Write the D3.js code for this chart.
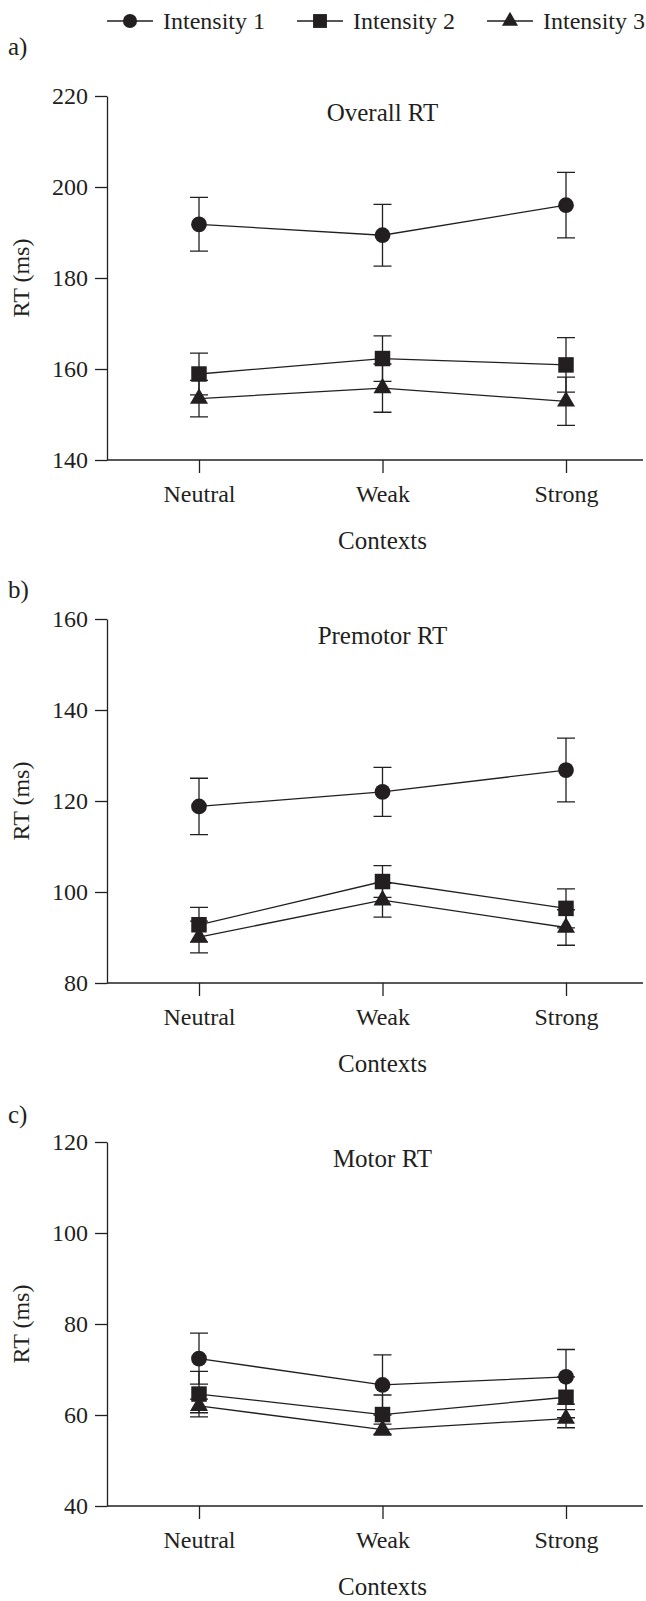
<!DOCTYPE html>
<html>
<head>
<meta charset="utf-8">
<script src="https://cdn.jsdelivr.net/npm/d3@7"></script>
<style>
  body { margin: 0; background: #fff; }
  svg { display: block; }
  text { font-family: "Liberation Serif", "Times New Roman", serif; fill: #231f20; }
</style>
</head>
<body>
<svg id="chart" width="646" height="1601"></svg>
<script>
// data
const contexts = ['Neutral', 'Weak', 'Strong'];
const seriesNames = ['Intensity 1', 'Intensity 2', 'Intensity 3'];
const panelLabels = ['a)', 'b)', 'c)'];
const panelTitles = ['Overall RT', 'Premotor RT', 'Motor RT'];
const yDomains = [[140, 220], [80, 160], [40, 120]];
const yTicks = [[140, 160, 180, 200, 220], [80, 100, 120, 140, 160], [40, 60, 80, 100, 120]];

const overallMeans = [[191.8, 189.4, 196.0], [158.9, 162.3, 160.9], [153.5, 155.8, 152.9]];
const overallErrors = [[5.9, 6.8, 7.2], [4.6, 5.0, 6.0], [4.0, 5.3, 5.3]];
const premotorMeans = [[118.8, 122.0, 126.8], [92.8, 102.3, 96.4], [90.1, 98.2, 92.2]];
const premotorErrors = [[6.2, 5.4, 7.0], [3.8, 3.5, 4.3], [3.5, 3.7, 3.9]];
const motorMeans = [[72.4, 66.6, 68.4], [64.6, 60.1, 63.9], [62.0, 56.8, 59.2]];
const motorErrors = [[5.6, 6.6, 6.0], [5.0, 4.3, 4.5], [1.5, 1.2, 2.0]];

const panelMeans = [overallMeans, premotorMeans, motorMeans];
const panelErrors = [overallErrors, premotorErrors, motorErrors];

const ink = '#231f20';
const symbols = [d3.symbolCircle, d3.symbolSquare, d3.symbolTriangle];
const symbolSizes = [195, 240, 140];

const svg = d3.select('#chart');

const axisLeftX = 107;
const axisRight = 643;
const panelTops = [96, 619, 1142];
const labelOffsets = [41, 21, 19];
const panelHeight = 364;

const x = d3.scalePoint()
  .domain(contexts)
  .range([199, 566]);

// legend
const legend = svg.append('g').attr('transform', 'translate(0,21)');
seriesNames.forEach((name, i) => {
  const x0 = 107 + i * 190;
  const item = legend.append('g').attr('transform', `translate(${x0},0)`);
  item.append('line')
    .attr('x1', 0).attr('x2', 46)
    .attr('stroke', ink).attr('stroke-width', 1.4);
  item.append('path')
    .attr('transform', 'translate(23,0)')
    .attr('d', d3.symbol(symbols[i], symbolSizes[i] * 0.8)())
    .attr('fill', ink);
  item.append('text')
    .attr('x', 56).attr('y', 8)
    .attr('font-size', 24)
    .text(name);
});

panelMeans.forEach((means, p) => {
  const top = panelTops[p];
  const errors = panelErrors[p];

  const y = d3.scaleLinear()
    .domain(yDomains[p])
    .range([top + panelHeight, top]);

  const g = svg.append('g');

  g.append('text')
    .attr('x', 8).attr('y', top - labelOffsets[p])
    .attr('font-size', 25)
    .text(panelLabels[p]);

  g.append('text')
    .attr('x', x('Weak')).attr('y', top + 25)
    .attr('text-anchor', 'middle')
    .attr('font-size', 25)
    .text(panelTitles[p]);

  // y axis
  const yAxis = g.append('g')
    .attr('transform', `translate(${axisLeftX},0)`)
    .call(d3.axisLeft(y).tickValues(yTicks[p]).tickSize(12).tickSizeOuter(0).tickPadding(7));
  yAxis.attr('font-family', null).attr('font-size', 24);
  yAxis.selectAll('text').attr('fill', ink);
  yAxis.selectAll('line, path').attr('stroke', ink).attr('stroke-width', 1.3);

  // x axis
  const xAxis = g.append('g')
    .attr('transform', `translate(0,${top + panelHeight})`)
    .call(d3.axisBottom(x).tickSize(13).tickSizeOuter(0).tickPadding(12));
  xAxis.attr('font-family', null).attr('font-size', 24);
  xAxis.select('.domain').remove();
  xAxis.append('line')
    .attr('x1', axisLeftX).attr('x2', axisRight)
    .attr('stroke', ink).attr('stroke-width', 1.3);
  xAxis.selectAll('text').attr('fill', ink);
  xAxis.selectAll('line').attr('stroke', ink).attr('stroke-width', 1.3);

  g.append('text')
    .attr('x', x('Weak')).attr('y', top + panelHeight + 89)
    .attr('text-anchor', 'middle')
    .attr('font-size', 25)
    .text('Contexts');

  g.append('text')
    .attr('transform', `translate(29,${top + panelHeight / 2}) rotate(-90)`)
    .attr('text-anchor', 'middle')
    .attr('font-size', 24)
    .text('RT (ms)');

  const line = d3.line()
    .x((d, i) => x(contexts[i]))
    .y(d => y(d));

  means.forEach((series, s) => {
    const pts = series.map((v, i) => ({ c: contexts[i], v: v, e: errors[s][i] }));

    const bars = g.append('g')
      .attr('stroke', ink).attr('stroke-width', 1.3).attr('fill', 'none');
    bars.selectAll('path')
      .data(pts)
      .enter().append('path')
        .attr('d', d => {
          const cx = x(d.c), hi = y(d.v + d.e), lo = y(d.v - d.e);
          return `M${cx - 9},${hi}H${cx + 9}M${cx},${hi}V${lo}M${cx - 9},${lo}H${cx + 9}`;
        });

    g.append('path')
      .datum(series)
      .attr('d', line)
      .attr('fill', 'none')
      .attr('stroke', ink)
      .attr('stroke-width', 1.3);

    g.append('g').selectAll('path')
      .data(pts)
      .enter().append('path')
        .attr('transform', d => `translate(${x(d.c)},${y(d.v)})`)
        .attr('d', d3.symbol(symbols[s], symbolSizes[s])())
        .attr('fill', ink);
  });
});
</script>
</body>
</html>
